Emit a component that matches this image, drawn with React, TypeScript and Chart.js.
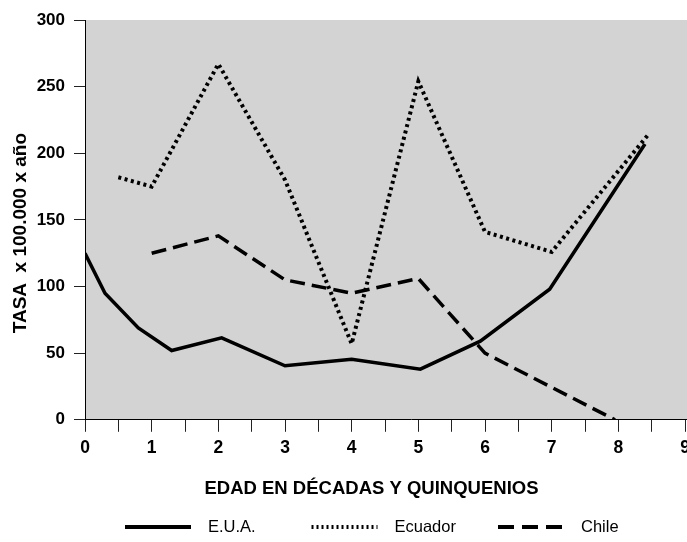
import React, { useEffect, useRef } from "react";
import { Chart, registerables } from "chart.js";

Chart.register(...registerables);

// ---- Data ----
const seriesLabels = ["E.U.A.", "Ecuador", "Chile"];

const euaX = [0, 0.3, 0.8, 1.3, 2.05, 3, 4, 5.03, 5.93, 6.97, 8.4];
const euaY = [125, 95, 69, 52, 61.5, 40.5, 45.5, 38, 59, 98, 207];

const ecuadorX = [0.5, 1.0, 2.0, 3.0, 4.0, 5.0, 6.0, 7.0, 8.45];
const ecuadorY = [182, 175, 267, 180, 57, 254, 141, 126, 214];

const chileX = [1, 2, 3, 4, 5, 6, 7.95];
const chileY = [125, 138, 105, 95, 106, 50, 0];

const yTicksMin = 0;
const yTicksMax = 300;
const yStep = 50;
const xMin = 0;
const xMax = 9.78;
const xStep = 0.5;

const yTitle = "TASA  x 100.000 x año";
const xTitle = "EDAD EN DÉCADAS Y QUINQUENIOS";

const FONT = '"Liberation Sans", Arial, Helvetica, sans-serif';

const toPoints = (xs: number[], ys: number[]) => xs.map((x, i) => ({ x, y: ys[i] }));

const plotBgPlugin = {
  id: "plotBg",
  beforeDraw(chart: any) {
    const { ctx, chartArea } = chart;
    if (!chartArea) return;
    ctx.save();
    ctx.fillStyle = "#d3d3d3";
    ctx.fillRect(chartArea.left, chartArea.top, chartArea.right - chartArea.left, chartArea.bottom - chartArea.top);
    ctx.restore();
  },
};

const lineLegendPlugin = {
  id: "lineLegend",
  afterDraw(chart: any) {
    const ctx = chart.ctx;
    const startX = 125;
    const step = 186.5;
    const y = 527;
    const lineLen = 66;
    const gap = 17;
    chart.data.datasets.forEach((ds: any, i: number) => {
      const x = startX + i * step;
      ctx.save();
      ctx.strokeStyle = ds.borderColor;
      ctx.lineWidth = ds.legendWidth || ds.borderWidth;
      ctx.lineCap = "butt";
      ctx.setLineDash(ds.legendDash || []);
      ctx.beginPath();
      ctx.moveTo(x, y);
      ctx.lineTo(x + lineLen, y);
      ctx.stroke();
      ctx.setLineDash([]);
      ctx.fillStyle = "#000";
      ctx.font = `16.5px ${FONT}`;
      ctx.textBaseline = "middle";
      ctx.textAlign = "left";
      ctx.fillText(ds.label, x + lineLen + gap, y);
      ctx.restore();
    });
  },
};

export default function App() {
  const canvasRef = useRef<HTMLCanvasElement | null>(null);

  useEffect(() => {
    document.body.style.margin = "0";
    const canvas = canvasRef.current;
    if (!canvas) return;
    Chart.defaults.font.family = FONT;
    const chart = new Chart(canvas, {
      type: "line",
      data: {
        datasets: [
          {
            label: seriesLabels[0],
            data: toPoints(euaX, euaY),
            borderColor: "#000",
            borderWidth: 3.5,
            pointRadius: 0,
            tension: 0,
            fill: false,
            legendWidth: 4,
            legendDash: [],
          } as any,
          {
            label: seriesLabels[1],
            data: toPoints(ecuadorX, ecuadorY),
            borderColor: "#000",
            borderWidth: 4,
            borderDash: [3, 3.5],
            pointRadius: 0,
            tension: 0,
            fill: false,
            legendWidth: 4,
            legendDash: [2, 3],
          } as any,
          {
            label: seriesLabels[2],
            data: toPoints(chileX, chileY),
            borderColor: "#000",
            borderWidth: 3.5,
            borderDash: [15, 7],
            pointRadius: 0,
            tension: 0,
            fill: false,
            legendWidth: 4,
            legendDash: [16, 8],
          } as any,
        ],
      },
      options: {
        animation: false,
        responsive: false,
        devicePixelRatio: 1,
        layout: { padding: { left: 0, right: 0, top: 20, bottom: 39 } },
        plugins: {
          legend: { display: false },
          tooltip: { enabled: false },
          title: {
            display: true,
            position: "bottom",
            text: xTitle,
            color: "#000",
            font: { size: 18.5, weight: "bold", family: FONT },
            padding: { top: 3, bottom: 3 },
          },
        },
        scales: {
          x: {
            type: "linear",
            min: xMin,
            max: xMax,
            afterFit: (s: any) => {
              s.height = 55;
            },
            ticks: {
              stepSize: xStep,
              autoSkip: false,
              maxRotation: 0,
              padding: 6,
              color: "#000",
              font: { size: 17.5, weight: "bold", family: FONT },
              callback: (v: any) => (Number.isInteger(Number(v)) ? String(v) : ""),
            },
            grid: {
              drawOnChartArea: false,
              drawTicks: true,
              tickLength: 12,
              tickColor: "#222",
              tickWidth: 1,
            },
            border: { display: true, color: "#000", width: 1 },
          },
          y: {
            type: "linear",
            min: yTicksMin,
            max: yTicksMax,
            afterFit: (s: any) => {
              s.width = 85;
            },
            ticks: {
              stepSize: yStep,
              padding: 9,
              color: "#000",
              font: { size: 17, weight: "bold", family: FONT },
            },
            grid: {
              drawOnChartArea: false,
              drawTicks: true,
              tickLength: 11,
              tickColor: "#222",
              tickWidth: 1,
            },
            border: { display: true, color: "#000", width: 1 },
            title: {
              display: true,
              text: yTitle + "     ",
              color: "#000",
              font: { size: 19, weight: "bold", family: FONT },
              padding: { top: 9, bottom: 0 },
            },
          },
        },
      } as any,
      plugins: [plotBgPlugin, lineLegendPlugin],
    });
    return () => chart.destroy();
  }, []);

  return (
    <div style={{ width: 687, height: 542, overflow: "hidden", background: "#fff" }}>
      <canvas ref={canvasRef} width={743} height={542} style={{ display: "block" }} />
    </div>
  );
}
